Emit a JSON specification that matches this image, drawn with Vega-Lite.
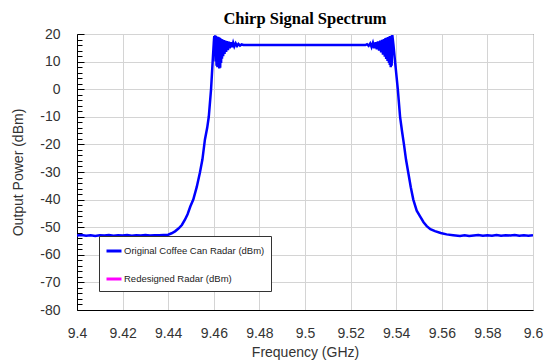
{
  "$schema": "https://vega.github.io/schema/vega-lite/v6.json",
  "width": 456,
  "height": 276,
  "autosize": {"type": "none"},
  "padding": {"left": 77, "top": 34, "right": 11, "bottom": 51},
  "background": "white",
  "title": {"text": "Chirp Signal Spectrum", "font": "Liberation Serif", "fontSize": 16.5, "fontWeight": "bold", "color": "#000", "anchor": "middle", "offset": 0},
  "config": {
    "view": {"stroke": "#333", "strokeWidth": 1},
    "axis": {"domainColor": "#000", "domainWidth": 1, "gridColor": "#d4d4d4", "gridWidth": 1, "labelFont": "Liberation Sans", "labelFontSize": 14, "labelColor": "#333", "titleFont": "Liberation Sans", "titleFontSize": 14, "titleFontWeight": "normal", "titleColor": "#333", "tickColor": "#000"}
  },
  "data": {"values": [
    {"f": 9.400, "p": -53.0, "s": "Original Coffee Can Radar (dBm)"},
    {"f": 9.402, "p": -52.8, "s": "Original Coffee Can Radar (dBm)"},
    {"f": 9.404, "p": -53.1, "s": "Original Coffee Can Radar (dBm)"},
    {"f": 9.406, "p": -52.9, "s": "Original Coffee Can Radar (dBm)"},
    {"f": 9.408, "p": -53.2, "s": "Original Coffee Can Radar (dBm)"},
    {"f": 9.410, "p": -52.9, "s": "Original Coffee Can Radar (dBm)"},
    {"f": 9.412, "p": -53.0, "s": "Original Coffee Can Radar (dBm)"},
    {"f": 9.414, "p": -52.8, "s": "Original Coffee Can Radar (dBm)"},
    {"f": 9.416, "p": -53.1, "s": "Original Coffee Can Radar (dBm)"},
    {"f": 9.418, "p": -52.9, "s": "Original Coffee Can Radar (dBm)"},
    {"f": 9.420, "p": -53.0, "s": "Original Coffee Can Radar (dBm)"},
    {"f": 9.422, "p": -52.8, "s": "Original Coffee Can Radar (dBm)"},
    {"f": 9.424, "p": -53.1, "s": "Original Coffee Can Radar (dBm)"},
    {"f": 9.426, "p": -52.9, "s": "Original Coffee Can Radar (dBm)"},
    {"f": 9.428, "p": -53.0, "s": "Original Coffee Can Radar (dBm)"},
    {"f": 9.430, "p": -52.8, "s": "Original Coffee Can Radar (dBm)"},
    {"f": 9.432, "p": -53.0, "s": "Original Coffee Can Radar (dBm)"},
    {"f": 9.434, "p": -52.9, "s": "Original Coffee Can Radar (dBm)"},
    {"f": 9.436, "p": -52.9, "s": "Original Coffee Can Radar (dBm)"},
    {"f": 9.438, "p": -52.8, "s": "Original Coffee Can Radar (dBm)"},
    {"f": 9.440, "p": -52.7, "s": "Original Coffee Can Radar (dBm)"},
    {"f": 9.4415, "p": -52.2, "s": "Original Coffee Can Radar (dBm)"},
    {"f": 9.4430, "p": -51.5, "s": "Original Coffee Can Radar (dBm)"},
    {"f": 9.4445, "p": -50.5, "s": "Original Coffee Can Radar (dBm)"},
    {"f": 9.4460, "p": -49.2, "s": "Original Coffee Can Radar (dBm)"},
    {"f": 9.4474, "p": -47.2, "s": "Original Coffee Can Radar (dBm)"},
    {"f": 9.4485, "p": -45.3, "s": "Original Coffee Can Radar (dBm)"},
    {"f": 9.4497, "p": -42.5, "s": "Original Coffee Can Radar (dBm)"},
    {"f": 9.4510, "p": -40.0, "s": "Original Coffee Can Radar (dBm)"},
    {"f": 9.4525, "p": -35.5, "s": "Original Coffee Can Radar (dBm)"},
    {"f": 9.4539, "p": -30.3, "s": "Original Coffee Can Radar (dBm)"},
    {"f": 9.4550, "p": -25.5, "s": "Original Coffee Can Radar (dBm)"},
    {"f": 9.4561, "p": -18.3, "s": "Original Coffee Can Radar (dBm)"},
    {"f": 9.4571, "p": -14.0, "s": "Original Coffee Can Radar (dBm)"},
    {"f": 9.4578, "p": -10.0, "s": "Original Coffee Can Radar (dBm)"},
    {"f": 9.4588, "p": 0.0, "s": "Original Coffee Can Radar (dBm)"},
    {"f": 9.4595, "p": 10.0, "s": "Original Coffee Can Radar (dBm)"},
    {"f": 9.4600, "p": 17.0, "s": "Original Coffee Can Radar (dBm)"},
    {"f": 9.4602, "p": 19.2, "s": "Original Coffee Can Radar (dBm)"},
    {"f": 9.4604, "p": 12.0, "s": "Original Coffee Can Radar (dBm)"},
    {"f": 9.4606, "p": 19.5, "s": "Original Coffee Can Radar (dBm)"},
    {"f": 9.4608, "p": 10.0, "s": "Original Coffee Can Radar (dBm)"},
    {"f": 9.4610, "p": 19.3, "s": "Original Coffee Can Radar (dBm)"},
    {"f": 9.4612, "p": 8.5, "s": "Original Coffee Can Radar (dBm)"},
    {"f": 9.4614, "p": 19.0, "s": "Original Coffee Can Radar (dBm)"},
    {"f": 9.4616, "p": 8.0, "s": "Original Coffee Can Radar (dBm)"},
    {"f": 9.4618, "p": 19.0, "s": "Original Coffee Can Radar (dBm)"},
    {"f": 9.4620, "p": 9.0, "s": "Original Coffee Can Radar (dBm)"},
    {"f": 9.4622, "p": 18.8, "s": "Original Coffee Can Radar (dBm)"},
    {"f": 9.4624, "p": 7.5, "s": "Original Coffee Can Radar (dBm)"},
    {"f": 9.4626, "p": 18.6, "s": "Original Coffee Can Radar (dBm)"},
    {"f": 9.4628, "p": 7.8, "s": "Original Coffee Can Radar (dBm)"},
    {"f": 9.4630, "p": 18.4, "s": "Original Coffee Can Radar (dBm)"},
    {"f": 9.4632, "p": 9.5, "s": "Original Coffee Can Radar (dBm)"},
    {"f": 9.4634, "p": 18.2, "s": "Original Coffee Can Radar (dBm)"},
    {"f": 9.4636, "p": 11.0, "s": "Original Coffee Can Radar (dBm)"},
    {"f": 9.4638, "p": 18.0, "s": "Original Coffee Can Radar (dBm)"},
    {"f": 9.4641, "p": 12.0, "s": "Original Coffee Can Radar (dBm)"},
    {"f": 9.4644, "p": 17.8, "s": "Original Coffee Can Radar (dBm)"},
    {"f": 9.4647, "p": 12.8, "s": "Original Coffee Can Radar (dBm)"},
    {"f": 9.4650, "p": 17.6, "s": "Original Coffee Can Radar (dBm)"},
    {"f": 9.4654, "p": 13.5, "s": "Original Coffee Can Radar (dBm)"},
    {"f": 9.4658, "p": 17.4, "s": "Original Coffee Can Radar (dBm)"},
    {"f": 9.4662, "p": 14.2, "s": "Original Coffee Can Radar (dBm)"},
    {"f": 9.4666, "p": 17.2, "s": "Original Coffee Can Radar (dBm)"},
    {"f": 9.4670, "p": 14.8, "s": "Original Coffee Can Radar (dBm)"},
    {"f": 9.4675, "p": 17.0, "s": "Original Coffee Can Radar (dBm)"},
    {"f": 9.4680, "p": 15.2, "s": "Original Coffee Can Radar (dBm)"},
    {"f": 9.4685, "p": 16.8, "s": "Original Coffee Can Radar (dBm)"},
    {"f": 9.4690, "p": 15.5, "s": "Original Coffee Can Radar (dBm)"},
    {"f": 9.4696, "p": 16.6, "s": "Original Coffee Can Radar (dBm)"},
    {"f": 9.4702, "p": 15.7, "s": "Original Coffee Can Radar (dBm)"},
    {"f": 9.4708, "p": 16.4, "s": "Original Coffee Can Radar (dBm)"},
    {"f": 9.4715, "p": 15.8, "s": "Original Coffee Can Radar (dBm)"},
    {"f": 9.4722, "p": 16.2, "s": "Original Coffee Can Radar (dBm)"},
    {"f": 9.4730, "p": 16.0, "s": "Original Coffee Can Radar (dBm)"},
    {"f": 9.4850, "p": 16.0, "s": "Original Coffee Can Radar (dBm)"},
    {"f": 9.5000, "p": 16.0, "s": "Original Coffee Can Radar (dBm)"},
    {"f": 9.5150, "p": 16.0, "s": "Original Coffee Can Radar (dBm)"},
    {"f": 9.5265, "p": 16.0, "s": "Original Coffee Can Radar (dBm)"},
    {"f": 9.5272, "p": 16.3, "s": "Original Coffee Can Radar (dBm)"},
    {"f": 9.5279, "p": 15.7, "s": "Original Coffee Can Radar (dBm)"},
    {"f": 9.5286, "p": 16.6, "s": "Original Coffee Can Radar (dBm)"},
    {"f": 9.5292, "p": 15.3, "s": "Original Coffee Can Radar (dBm)"},
    {"f": 9.5298, "p": 16.8, "s": "Original Coffee Can Radar (dBm)"},
    {"f": 9.5304, "p": 14.9, "s": "Original Coffee Can Radar (dBm)"},
    {"f": 9.5310, "p": 17.0, "s": "Original Coffee Can Radar (dBm)"},
    {"f": 9.5315, "p": 14.5, "s": "Original Coffee Can Radar (dBm)"},
    {"f": 9.5320, "p": 17.3, "s": "Original Coffee Can Radar (dBm)"},
    {"f": 9.5325, "p": 14.0, "s": "Original Coffee Can Radar (dBm)"},
    {"f": 9.5330, "p": 17.6, "s": "Original Coffee Can Radar (dBm)"},
    {"f": 9.5334, "p": 13.3, "s": "Original Coffee Can Radar (dBm)"},
    {"f": 9.5338, "p": 17.9, "s": "Original Coffee Can Radar (dBm)"},
    {"f": 9.5342, "p": 12.5, "s": "Original Coffee Can Radar (dBm)"},
    {"f": 9.5346, "p": 18.2, "s": "Original Coffee Can Radar (dBm)"},
    {"f": 9.5350, "p": 11.8, "s": "Original Coffee Can Radar (dBm)"},
    {"f": 9.5353, "p": 18.5, "s": "Original Coffee Can Radar (dBm)"},
    {"f": 9.5356, "p": 11.0, "s": "Original Coffee Can Radar (dBm)"},
    {"f": 9.5359, "p": 18.7, "s": "Original Coffee Can Radar (dBm)"},
    {"f": 9.5362, "p": 10.2, "s": "Original Coffee Can Radar (dBm)"},
    {"f": 9.5365, "p": 18.9, "s": "Original Coffee Can Radar (dBm)"},
    {"f": 9.5368, "p": 9.5, "s": "Original Coffee Can Radar (dBm)"},
    {"f": 9.5370, "p": 19.1, "s": "Original Coffee Can Radar (dBm)"},
    {"f": 9.5372, "p": 8.8, "s": "Original Coffee Can Radar (dBm)"},
    {"f": 9.5374, "p": 19.3, "s": "Original Coffee Can Radar (dBm)"},
    {"f": 9.5376, "p": 8.0, "s": "Original Coffee Can Radar (dBm)"},
    {"f": 9.5378, "p": 19.4, "s": "Original Coffee Can Radar (dBm)"},
    {"f": 9.5380, "p": 8.5, "s": "Original Coffee Can Radar (dBm)"},
    {"f": 9.5383, "p": 19.6, "s": "Original Coffee Can Radar (dBm)"},
    {"f": 9.5388, "p": 16.0, "s": "Original Coffee Can Radar (dBm)"},
    {"f": 9.5395, "p": 10.0, "s": "Original Coffee Can Radar (dBm)"},
    {"f": 9.5407, "p": 0.0, "s": "Original Coffee Can Radar (dBm)"},
    {"f": 9.5417, "p": -10.0, "s": "Original Coffee Can Radar (dBm)"},
    {"f": 9.5426, "p": -15.5, "s": "Original Coffee Can Radar (dBm)"},
    {"f": 9.5434, "p": -20.0, "s": "Original Coffee Can Radar (dBm)"},
    {"f": 9.5443, "p": -25.5, "s": "Original Coffee Can Radar (dBm)"},
    {"f": 9.5453, "p": -30.3, "s": "Original Coffee Can Radar (dBm)"},
    {"f": 9.5464, "p": -35.5, "s": "Original Coffee Can Radar (dBm)"},
    {"f": 9.5475, "p": -40.0, "s": "Original Coffee Can Radar (dBm)"},
    {"f": 9.5490, "p": -44.0, "s": "Original Coffee Can Radar (dBm)"},
    {"f": 9.5504, "p": -46.0, "s": "Original Coffee Can Radar (dBm)"},
    {"f": 9.5520, "p": -48.2, "s": "Original Coffee Can Radar (dBm)"},
    {"f": 9.5534, "p": -49.6, "s": "Original Coffee Can Radar (dBm)"},
    {"f": 9.5550, "p": -50.7, "s": "Original Coffee Can Radar (dBm)"},
    {"f": 9.5570, "p": -51.4, "s": "Original Coffee Can Radar (dBm)"},
    {"f": 9.5595, "p": -52.1, "s": "Original Coffee Can Radar (dBm)"},
    {"f": 9.5621, "p": -52.6, "s": "Original Coffee Can Radar (dBm)"},
    {"f": 9.5650, "p": -52.9, "s": "Original Coffee Can Radar (dBm)"},
    {"f": 9.568, "p": -53.2, "s": "Original Coffee Can Radar (dBm)"},
    {"f": 9.570, "p": -52.9, "s": "Original Coffee Can Radar (dBm)"},
    {"f": 9.572, "p": -53.2, "s": "Original Coffee Can Radar (dBm)"},
    {"f": 9.574, "p": -53.0, "s": "Original Coffee Can Radar (dBm)"},
    {"f": 9.576, "p": -52.8, "s": "Original Coffee Can Radar (dBm)"},
    {"f": 9.578, "p": -53.1, "s": "Original Coffee Can Radar (dBm)"},
    {"f": 9.580, "p": -52.9, "s": "Original Coffee Can Radar (dBm)"},
    {"f": 9.582, "p": -53.1, "s": "Original Coffee Can Radar (dBm)"},
    {"f": 9.584, "p": -52.8, "s": "Original Coffee Can Radar (dBm)"},
    {"f": 9.586, "p": -53.1, "s": "Original Coffee Can Radar (dBm)"},
    {"f": 9.588, "p": -52.9, "s": "Original Coffee Can Radar (dBm)"},
    {"f": 9.590, "p": -53.0, "s": "Original Coffee Can Radar (dBm)"},
    {"f": 9.592, "p": -52.8, "s": "Original Coffee Can Radar (dBm)"},
    {"f": 9.594, "p": -53.1, "s": "Original Coffee Can Radar (dBm)"},
    {"f": 9.596, "p": -52.9, "s": "Original Coffee Can Radar (dBm)"},
    {"f": 9.598, "p": -53.1, "s": "Original Coffee Can Radar (dBm)"},
    {"f": 9.600, "p": -52.9, "s": "Original Coffee Can Radar (dBm)"}
  ]},
  "mark": {"type": "line", "strokeWidth": 2.5, "interpolate": "linear", "clip": true},
  "encoding": {
    "x": {
      "field": "f", "type": "quantitative",
      "scale": {"domain": [9.4, 9.6], "nice": false, "zero": false},
      "axis": {"title": "Frequency (GHz)", "values": [9.4, 9.42, 9.44, 9.46, 9.48, 9.5, 9.52, 9.54, 9.56, 9.58, 9.6], "format": "~g", "ticks": false, "labelPadding": 16, "titlePadding": 5, "labelFlush": false}
    },
    "y": {
      "field": "p", "type": "quantitative",
      "scale": {"domain": [-80, 20], "nice": false, "zero": false},
      "axis": {
        "title": "Output Power (dBm)",
        "values": [-80, -78, -76, -74, -72, -70, -68, -66, -64, -62, -60, -58, -56, -54, -52, -50, -48, -46, -44, -42, -40, -38, -36, -34, -32, -30, -28, -26, -24, -22, -20, -18, -16, -14, -12, -10, -8, -6, -4, -2, 0, 2, 4, 6, 8, 10, 12, 14, 16, 18, 20],
        "labelExpr": "datum.value % 10 === 0 ? '' + datum.value : ''",
        "gridOpacity": {"condition": {"test": "datum.value % 10 === 0", "value": 1}, "value": 0},
        "tickSize": {"condition": {"test": "datum.value % 10 === 0", "value": -7}, "value": -5},
        "labelPadding": 24,
        "titlePadding": 14,
        "labelFlush": false
      }
    },
    "color": {
      "field": "s", "type": "nominal",
      "scale": {"domain": ["Original Coffee Can Radar (dBm)", "Redesigned Radar (dBm)"], "range": ["#0000ff", "#ff00ff"]},
      "legend": {"title": null, "orient": "none", "legendX": 22, "legendY": 202, "fillColor": "white", "strokeColor": "#333", "padding": 6, "symbolType": "stroke", "symbolSize": 225, "symbolStrokeWidth": 3, "labelFont": "Liberation Sans", "labelFontSize": 9.5, "labelColor": "#222", "labelOffset": 1, "rowPadding": 13, "cornerRadius": 0}
    }
  }
}
